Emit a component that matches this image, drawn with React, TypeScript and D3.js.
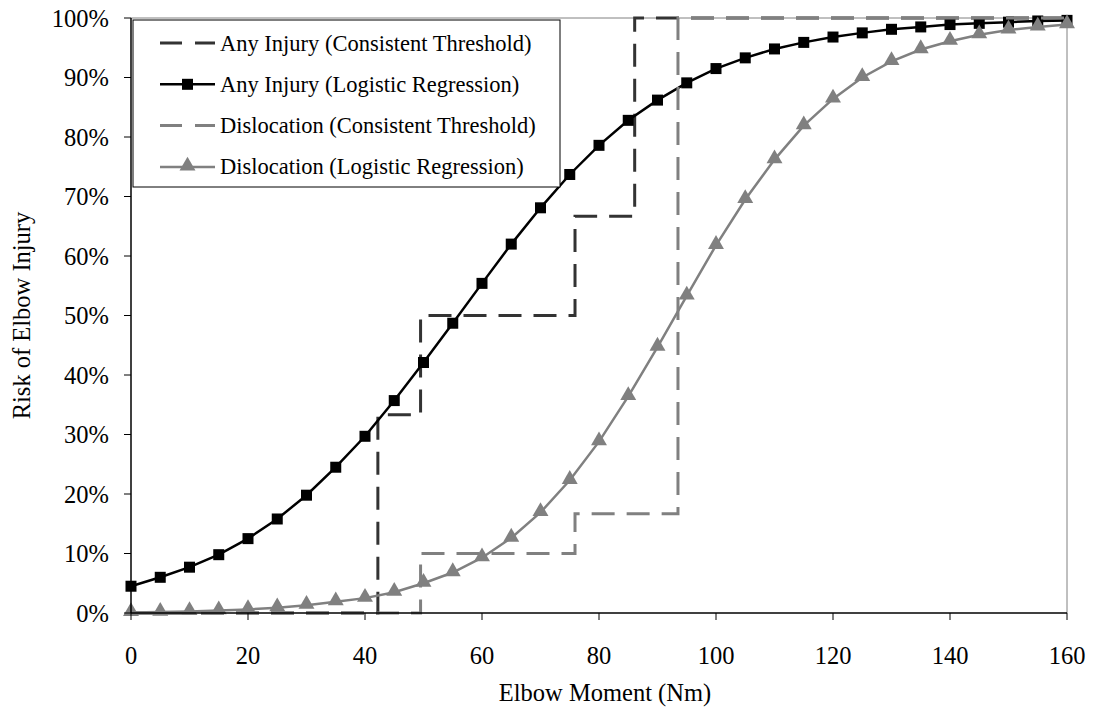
import * as d3 from "d3";

// elbow moment (Nm) sampled every 5 Nm for the logistic curves
const moments = [
  0, 5, 10, 15, 20, 25, 30, 35, 40, 45, 50, 55, 60, 65, 70, 75, 80,
  85, 90, 95, 100, 105, 110, 115, 120, 125, 130, 135, 140, 145, 150, 155, 160,
];

const anyLogistic = [
  4.5, 6.0, 7.7, 9.8, 12.5, 15.8, 19.8, 24.5, 29.7, 35.7, 42.1, 48.7, 55.4,
  62.0, 68.1, 73.7, 78.6, 82.8, 86.2, 89.1, 91.5, 93.3, 94.8, 95.9, 96.8,
  97.5, 98.1, 98.5, 98.9, 99.1, 99.3, 99.5, 99.6,
];

const dislocationLogistic = [
  0.1, 0.15, 0.25, 0.4, 0.6, 0.9, 1.3, 1.9, 2.5, 3.5, 5.0, 6.8, 9.3, 12.6,
  16.9, 22.3, 28.8, 36.4, 44.7, 53.3, 61.8, 69.5, 76.2, 81.9, 86.4, 90.0,
  92.7, 94.7, 96.1, 97.2, 98.0, 98.5, 98.9,
];

// step outlines of the consistent-threshold estimates
const anyThresholdX = [0, 42.2, 42.2, 49.5, 49.5, 75.9, 75.9, 86.1, 86.1, 160];
const anyThresholdY = [0, 0, 33.3, 33.3, 50, 50, 66.7, 66.7, 100, 100];

const dislThresholdX = [0, 49.5, 49.5, 75.9, 75.9, 93.5, 93.5, 160];
const dislThresholdY = [0, 0, 10, 10, 16.7, 16.7, 100, 100];

const xTicks = [0, 20, 40, 60, 80, 100, 120, 140, 160];
const yTicks = [0, 10, 20, 30, 40, 50, 60, 70, 80, 90, 100];

const legendLabels = [
  "Any Injury (Consistent Threshold)",
  "Any Injury (Logistic Regression)",
  "Dislocation (Consistent Threshold)",
  "Dislocation (Logistic Regression)",
];

const W = 1093;
const H = 714;
const margin = { left: 131, right: 26, top: 18, bottom: 101 };
const font = "'Liberation Serif', 'Times New Roman', serif";
const DARK = "#333333";
const GRAY = "#808080";

const App = () => {
  const x = d3.scaleLinear().domain([0, 160]).range([margin.left, W - margin.right]);
  const y = d3.scaleLinear().domain([0, 100]).range([H - margin.bottom, margin.top]);

  const line = d3
    .line<[number, number]>()
    .x((d) => x(d[0]))
    .y((d) => y(d[1]));

  const anyPts = moments.map((m, i) => [m, anyLogistic[i]] as [number, number]);
  const dislPts = moments.map((m, i) => [m, dislocationLogistic[i]] as [number, number]);
  const anyStep = anyThresholdX.map((v, i) => [v, anyThresholdY[i]] as [number, number]);
  const dislStep = dislThresholdX.map((v, i) => [v, dislThresholdY[i]] as [number, number]);

  const tri = d3.symbol().type(d3.symbolTriangle).size(110)() ?? "";
  const sq = 11;
  const dash = "23,12";

  const x0 = x(0);
  const y0 = y(0);
  const lg = { x: 133, y: 20, w: 427, h: 167 };
  const rowY = (i: number) => lg.y + 23 + i * 41.3;

  return (
    <svg
      width={W}
      height={H}
      style={{ position: "absolute", left: 0, top: 0, background: "#fff" }}
      fontFamily={font}
    >
      {/* plot frame (top & right) */}
      <line x1={x0} x2={x(160)} y1={y(100)} y2={y(100)} stroke={GRAY} strokeWidth={1} />
      <line x1={x(160)} x2={x(160)} y1={y(100)} y2={y0} stroke={GRAY} strokeWidth={1} />

      {/* series */}
      <path d={line(anyStep) ?? ""} fill="none" stroke={DARK} strokeWidth={3} strokeDasharray={dash} />
      <path d={line(anyPts) ?? ""} fill="none" stroke="#000" strokeWidth={2.5} />
      {anyPts.map((p, i) => (
        <rect key={"s" + i} x={x(p[0]) - sq / 2} y={y(p[1]) - sq / 2} width={sq} height={sq} fill="#000" />
      ))}
      <path d={line(dislStep) ?? ""} fill="none" stroke={GRAY} strokeWidth={3} strokeDasharray={dash} />
      <path d={line(dislPts) ?? ""} fill="none" stroke={GRAY} strokeWidth={2.5} />
      {dislPts.map((p, i) => (
        <path key={"t" + i} d={tri} transform={`translate(${x(p[0])},${y(p[1]) - 1})`} fill={GRAY} />
      ))}

      {/* axes */}
      <line x1={x0} x2={x0} y1={y(100)} y2={y0} stroke="#000" strokeWidth={1.5} />
      <line x1={x0} x2={x(160)} y1={y0} y2={y0} stroke="#000" strokeWidth={1.5} />
      {yTicks.map((t) => (
        <g key={"y" + t}>
          <line x1={x0 - 7} x2={x0} y1={y(t)} y2={y(t)} stroke="#000" strokeWidth={1} />
          <text x={x0 - 22} y={y(t) + 8.5} textAnchor="end" fontSize={24.5}>
            {t}%
          </text>
        </g>
      ))}
      {xTicks.map((t) => (
        <g key={"x" + t}>
          <line x1={x(t)} x2={x(t)} y1={y0} y2={y0 + 7} stroke="#000" strokeWidth={1} />
          <text x={x(t)} y={y0 + 51} textAnchor="middle" fontSize={24.5}>
            {t}
          </text>
        </g>
      ))}
      <text x={605} y={701} textAnchor="middle" fontSize={24.5}>
        Elbow Moment (Nm)
      </text>
      <text transform={`translate(30,${(y0 + y(100)) / 2}) rotate(-90)`} textAnchor="middle" fontSize={24.5}>
        Risk of Elbow Injury
      </text>

      {/* legend */}
      <rect x={lg.x} y={lg.y} width={lg.w} height={lg.h} fill="#fff" stroke="#000" strokeWidth={1} />
      {legendLabels.map((label, i) => {
        const cy = rowY(i);
        const isGray = i >= 2;
        const color = i === 0 ? DARK : i === 1 ? "#000" : GRAY;
        const dashed = i % 2 === 0;
        return (
          <g key={label}>
            <line
              x1={160}
              x2={215}
              y1={cy}
              y2={cy}
              stroke={color}
              strokeWidth={dashed ? 3 : 2.5}
              strokeDasharray={dashed ? "22,13" : undefined}
            />
            {!dashed && !isGray && <rect x={187.5 - sq / 2} y={cy - sq / 2} width={sq} height={sq} fill="#000" />}
            {!dashed && isGray && <path d={tri} transform={`translate(187.5,${cy - 1})`} fill={GRAY} />}
            <text x={220} y={cy + 7.5} fontSize={22.5}>
              {label}
            </text>
          </g>
        );
      })}
    </svg>
  );
};

export default App;
